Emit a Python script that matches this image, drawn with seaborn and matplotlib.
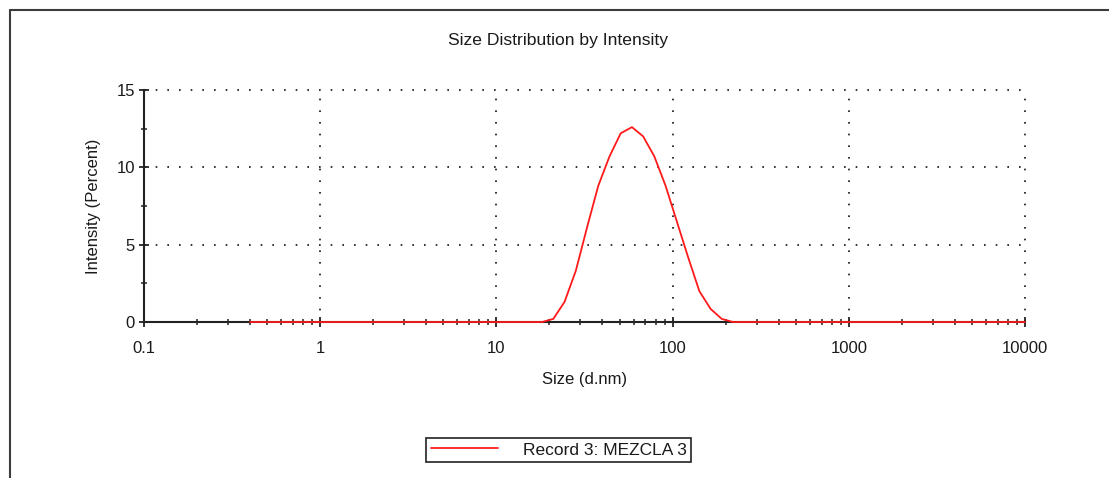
import matplotlib
matplotlib.use("Agg")
import matplotlib.pyplot as plt
from matplotlib.lines import Line2D
from matplotlib.ticker import LogLocator, FixedLocator, FixedFormatter, MultipleLocator, NullFormatter
import seaborn as sns
import pandas as pd

# Size bins (d.nm) and intensity (%)
sizes = [0.4, 0.4632, 0.5365, 0.6213, 0.7195, 0.8332, 0.9649, 1.117, 1.294, 1.499,
         1.736, 2.01, 2.328, 2.696, 3.122, 3.615, 4.187, 4.849, 5.615, 6.503,
         7.531, 8.721, 10.1, 11.7, 13.54, 15.69, 18.17, 21.04, 24.36, 28.21,
         32.67, 37.84, 43.82, 50.75, 58.77, 68.06, 78.82, 91.28, 105.7, 122.4,
         141.8, 164.2, 190.1, 220.2, 255.0, 295.3, 342.0, 396.1, 458.7, 531.2,
         615.1, 712.4, 825.0, 955.4, 1106, 1281, 1484, 1718, 1990, 2305,
         2669, 3091, 3580, 4145, 4801, 5560, 6439, 7456, 8635, 10000]
intensity = [0, 0, 0, 0, 0, 0, 0, 0, 0, 0,
             0, 0, 0, 0, 0, 0, 0, 0, 0, 0,
             0, 0, 0, 0, 0, 0, 0, 0.2, 1.3, 3.3,
             6.1, 8.8, 10.7, 12.2, 12.6, 12.0, 10.7, 8.8, 6.5, 4.2,
             2.0, 0.85, 0.2, 0, 0, 0, 0, 0, 0, 0,
             0, 0, 0, 0, 0, 0, 0, 0, 0, 0,
             0, 0, 0, 0, 0, 0, 0, 0, 0, 0]
series_name = "Record 3: MEZCLA 3"
x_tick_values = [0.1, 1, 10, 100, 1000, 10000]
x_tick_labels = ["0.1", "1", "10", "100", "1000", "10000"]
y_tick_values = [0, 5, 10, 15]

title = "Size Distribution by Intensity"
xlabel = "Size (d.nm)"
ylabel = "Intensity (Percent)"

sns.set_style("white")
plt.rcParams["font.family"] = ["Liberation Sans", "DejaVu Sans"]

W, H = 1109, 478
fig = plt.figure(figsize=(W / 100, H / 100), dpi=100)
fig.patch.set_facecolor("white")
ax = fig.add_axes([144 / W, 1 - 322 / H, (1025 - 144) / W, (322 - 90) / H])

df = pd.DataFrame({"size": sizes, "intensity": intensity})
sns.lineplot(data=df, x="size", y="intensity", ax=ax, color="#ff1a1a", lw=1.3,
             estimator=None, sort=False, label=series_name, zorder=4, clip_on=False)

ax.set_xscale("log")
ax.set_xlim(0.1, 10000)
ax.set_ylim(0, 15)

ax.xaxis.set_major_locator(FixedLocator(x_tick_values))
ax.xaxis.set_major_formatter(FixedFormatter(x_tick_labels))
ax.xaxis.set_minor_locator(LogLocator(base=10, subs=[2, 3, 4, 5, 6, 7, 8, 9], numticks=20))
ax.xaxis.set_minor_formatter(NullFormatter())
ax.yaxis.set_major_locator(FixedLocator(y_tick_values))
ax.yaxis.set_minor_locator(MultipleLocator(2.5))

tick_color = "#1a1a1a"
ax.tick_params(axis="both", which="both", bottom=True, left=True, top=False, right=False)
ax.tick_params(axis="both", which="major", direction="inout", length=7, width=1.3,
               color="#222222", labelsize=12, labelcolor=tick_color)
ax.tick_params(axis="both", which="minor", direction="inout", length=5, width=1.1,
               color="#222222")
ax.tick_params(axis="x", which="major", pad=10)
ax.tick_params(axis="y", which="major", pad=3)

for s in ["top", "right"]:
    ax.spines[s].set_visible(False)
for s in ["left", "bottom"]:
    ax.spines[s].set_color("#222222")
    ax.spines[s].set_linewidth(1.5)

ax.grid(True, which="major", linestyle=(0, (1, 6)), color="#111111", lw=1.2)
ax.set_axisbelow(True)
for gl in ax.get_xgridlines() + ax.get_ygridlines():
    gl.set_clip_on(False)

ax.set_xlabel(xlabel, fontsize=12, color=tick_color, labelpad=12)
ax.set_ylabel(ylabel, fontsize=12, color=tick_color, labelpad=11)

fig.text(558.5 / W, 1 - 40 / H, title, ha="center", va="center", fontsize=12.6, color=tick_color)

leg = ax.legend(loc="center", bbox_to_anchor=(558.5 / W, 1 - 450 / H),
                bbox_transform=fig.transFigure, fontsize=12.5, frameon=True,
                fancybox=False, framealpha=1, edgecolor="#222222",
                handlelength=3.9, handletextpad=1.4, borderpad=0.25)
leg.get_frame().set_linewidth(1.2)
for t in leg.get_texts():
    t.set_color(tick_color)

# screenshot frame border (left and top)
fig.add_artist(Line2D([10 / W, 10 / W], [0, 1 - 10 / H], transform=fig.transFigure,
                      color="#3c3c3c", lw=1.5))
fig.add_artist(Line2D([10 / W, 1], [1 - 10 / H, 1 - 10 / H], transform=fig.transFigure,
                      color="#3c3c3c", lw=1.5))

fig.savefig("out.png", dpi=100, facecolor="white")
